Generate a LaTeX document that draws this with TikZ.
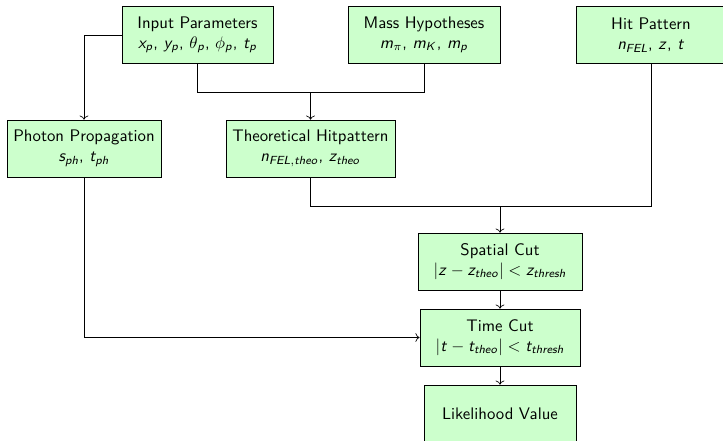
\documentclass[tikz,border=0pt]{standalone}
\usepackage{tikz}
\usetikzlibrary{arrows.meta,positioning}
\definecolor{boxfill}{RGB}{204,255,204}
% sans slanted letters in math
\DeclareSymbolFont{sfit}{OT1}{cmss}{m}{sl}
\everymath{\fam\symsfit}

\begin{document}
\sffamily
\begin{tikzpicture}[x=0.597pt,y=-0.597pt,
  box/.style={draw,fill=boxfill,align=center,minimum height=34pt,inner sep=2.5pt},
  ar/.style={->}]
\useasboundingbox (0,0) rectangle (723,440);
\node[box,minimum width=90.2pt]  (inp) at (197.5,35)  {Input Parameters\\$x_p$, $y_p$, $\theta_p$, $\phi_p$, $t_p$};
\node[box,minimum width=90.8pt]  (mas) at (424,35)    {Mass Hypotheses\\$m_\pi$, $m_K$, $m_p$};
\node[box,minimum width=89.6pt]  (hit) at (651,35)    {Hit Pattern\\$n_{FEL}$, $z$, $t$};
\node[box,minimum width=91.9pt]  (pho) at (84,148.5)  {Photon Propagation\\$s_{ph}$, $t_{ph}$};
\node[box,minimum width=101pt]   (the) at (310.5,148.5) {Theoretical Hitpattern\\$n_{FEL,theo}$, $z_{theo}$};
\node[box,minimum width=97.9pt]  (spa) at (500,261.5) {Spatial Cut\\$|z-z_{theo}|<z_{thresh}$};
\node[box,minimum width=95.6pt]  (tim) at (500,337.5) {Time Cut\\$|t-t_{theo}|<t_{thresh}$};
\node[box,minimum width=90.8pt]  (lik) at (500,413.5) {Likelihood Value};
\coordinate (j1) at (310.5,92);
\coordinate (j2) at (500,206);
\draw[ar] (inp.west) -| (pho.north);
\draw (inp.south) |- (j1); \draw (mas.south) |- (j1);
\draw[ar] (j1) -- (the.north);
\draw (the.south) |- (j2); \draw (hit.south) |- (j2);
\draw[ar] (j2) -- (spa.north);
\draw[ar] (pho.south) |- (tim.west);
\draw[ar] (spa) -- (tim); \draw[ar] (tim) -- (lik);
\end{tikzpicture}
\end{document}
